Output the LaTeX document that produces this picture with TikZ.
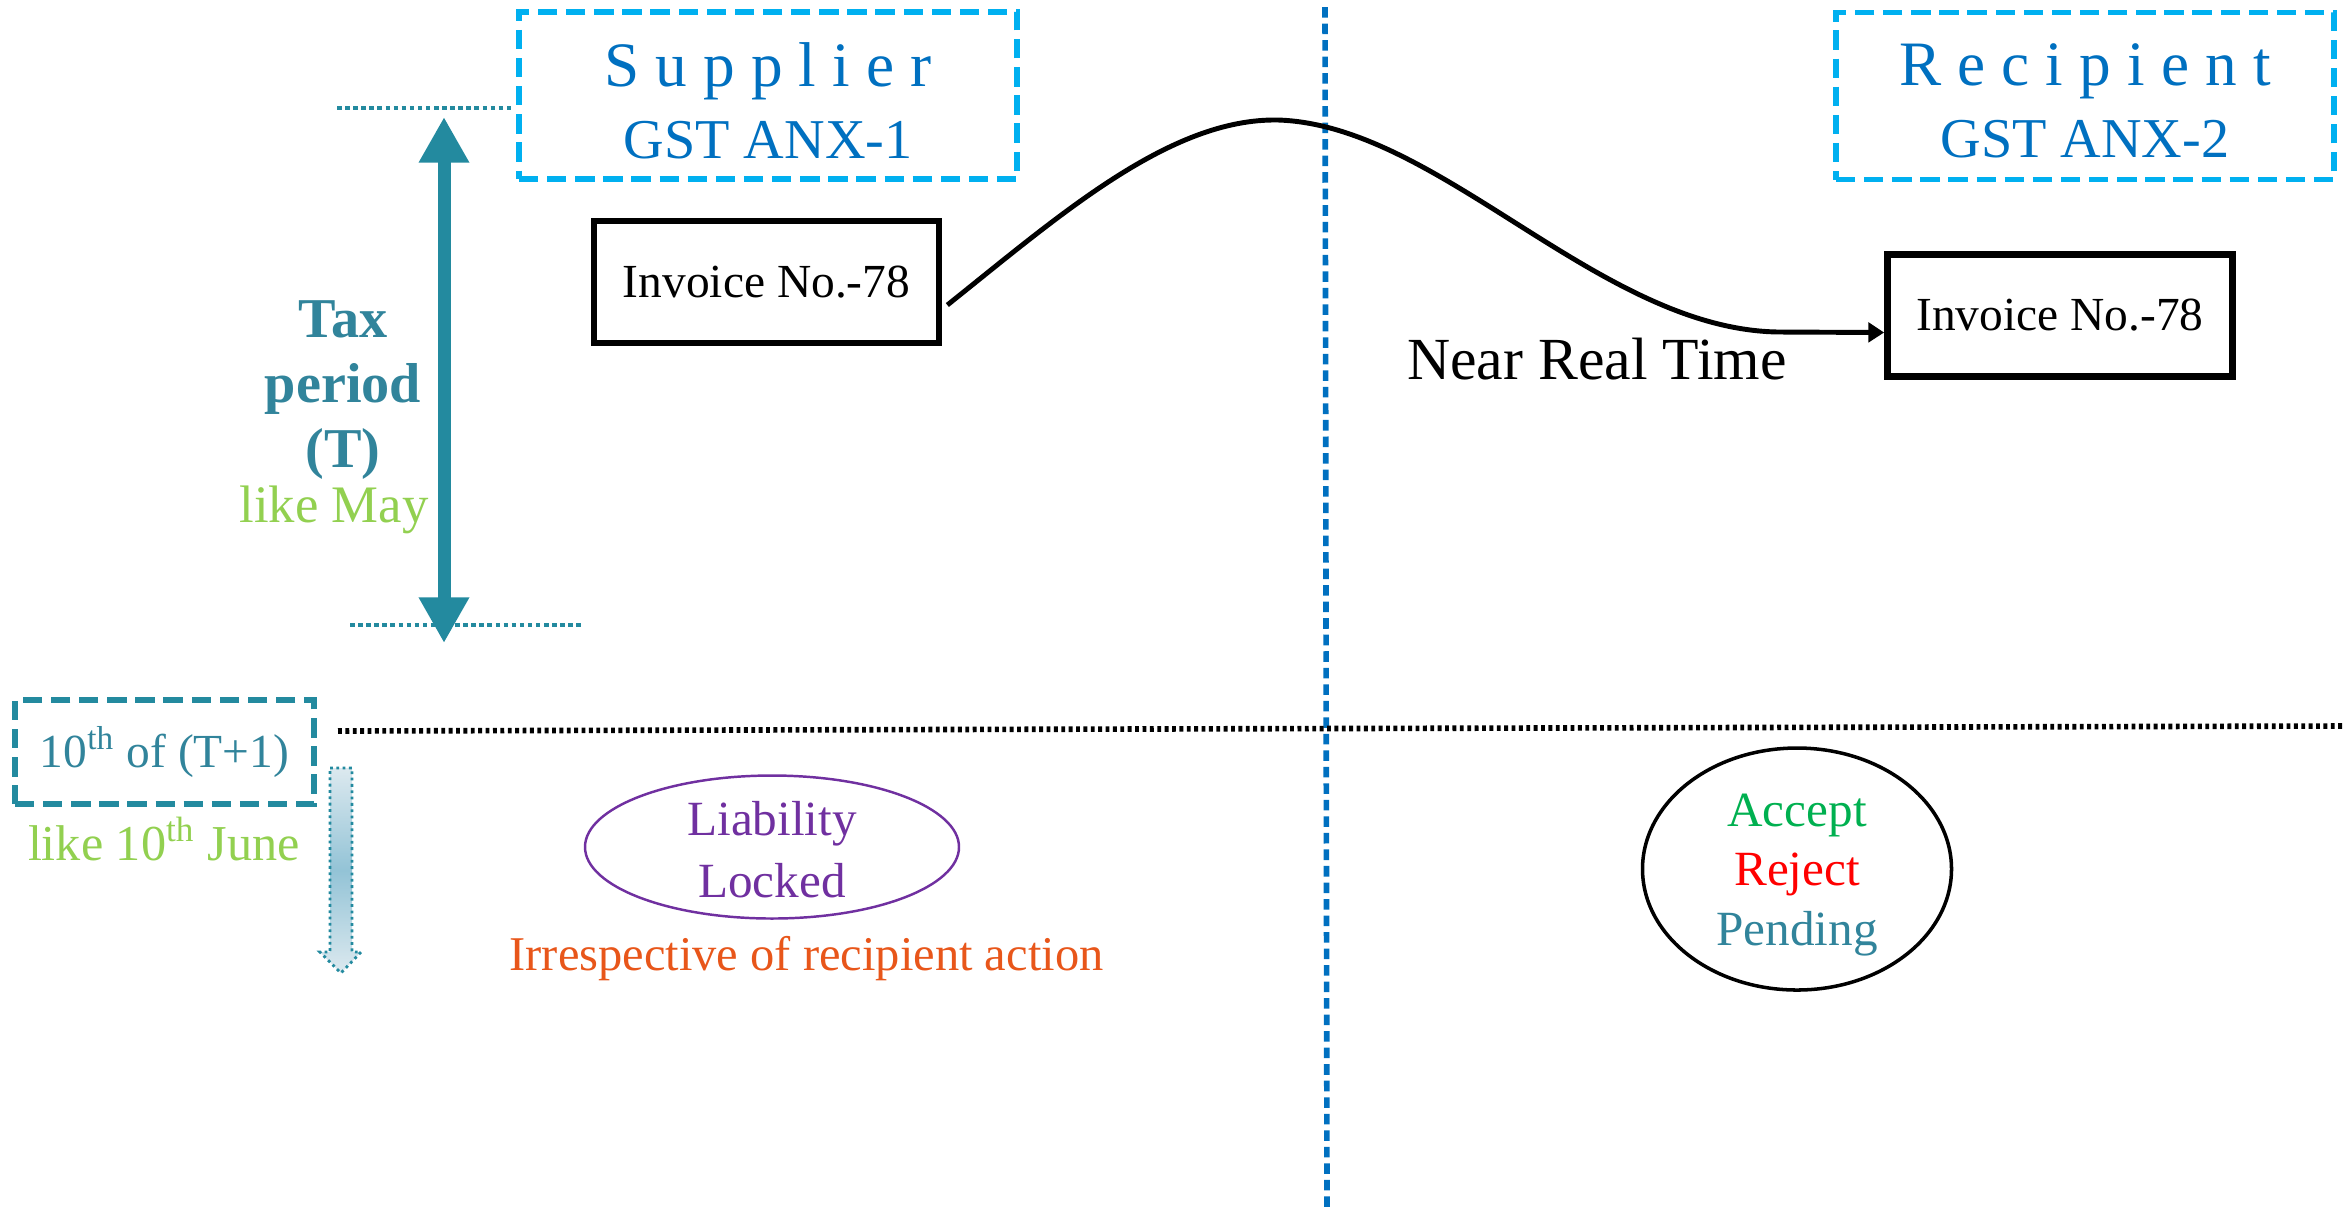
\documentclass[tikz,border=0pt]{standalone}
\usepackage{fontspec}
\setmainfont{Liberation Serif}
\usepackage{xcolor}
\definecolor{skyblue}{HTML}{00B0F0}
\definecolor{deepblue}{HTML}{0070C0}
\definecolor{tealtext}{HTML}{31849B}
\definecolor{tealarrow}{HTML}{238A9F}
\definecolor{leafgreen}{HTML}{92D050}
\definecolor{lockpurple}{HTML}{7030A0}
\definecolor{noteorange}{HTML}{E8561A}
\definecolor{acceptgreen}{HTML}{00B050}
\definecolor{shadelight}{HTML}{DCE9EF}
\definecolor{shadedark}{HTML}{93C3D6}
\usetikzlibrary{arrows.meta,shapes.geometric,positioning}

\newcommand{\lsp}{\hspace{4.6pt}}

\tikzset{
  rolebox/.style={rectangle, draw=skyblue, line width=1.5pt, dash pattern=on 5.5pt off 2.5pt,
               minimum width=4.98cm, minimum height=1.67cm, inner sep=0pt},
  roletext/.style={text=deepblue, inner sep=0pt, font=\fontsize{16}{20.5}\selectfont, align=center},
  invbox/.style={rectangle, draw=black, line width=1.9pt, minimum width=3.45cm,
               minimum height=1.22cm, font=\fontsize{13.5}{16}\selectfont},
  datebox/.style={rectangle, draw=tealarrow, line width=1.5pt, dash pattern=on 5.5pt off 2.5pt,
               text=tealtext, minimum width=2.99cm, minimum height=1.04cm, inner sep=0pt,
               font=\fontsize{13.5}{16}\selectfont},
  lockoval/.style={ellipse, draw=lockpurple, line width=0.7pt, minimum width=3.74cm,
               minimum height=1.43cm, inner sep=0pt},
  stateoval/.style={ellipse, draw=black, line width=1pt, minimum width=3.09cm,
               minimum height=2.42cm, inner sep=0pt},
  ovaltext/.style={font=\fontsize{14}{17.6}\selectfont, align=center, inner sep=0pt},
  guide/.style={draw=tealarrow, line width=1.3pt, dash pattern=on 1.3pt off 1pt},
  split/.style={line width=1.6pt, dash pattern=on 3pt off 1.7pt},
  taxarrow/.style={{Triangle[width=13.5pt,length=13pt]}-{Triangle[width=13.5pt,length=13pt]},
               line width=3.7pt, draw=tealarrow},
  flow/.style={-{Triangle[width=5.5pt,length=4.5pt]}, line width=1.4pt, draw=black},
}

\begin{document}
\begin{tikzpicture}
  \useasboundingbox (0,0) rectangle (23.44,-12.17);

  % Dividers
  \coordinate (vtop) at (13.25,-0.07);
  \coordinate (vbot) at (13.27,-12.11);
  \coordinate (hleft) at (3.38,-7.31);
  \coordinate (hright) at (23.44,-7.26);
  \draw[split, draw=deepblue] (vtop) -- (vbot);
  \draw[split, draw=black, dash pattern=on 1.1pt off 1pt] (hleft) -- (hright);

  % Headers
  \node[rolebox] (supplier) at (7.68,-0.955) {};
  \node[roletext] at ([yshift=-0.05cm]supplier)
    {{\fontsize{18}{20}\selectfont S\lsp u\lsp p\lsp p\lsp l\lsp i\lsp e\lsp r}\\GST ANX-1};
  \node[rolebox] (recipient) at (20.85,-0.96) {};
  \node[roletext] at ([yshift=-0.05cm]recipient)
    {{\fontsize{18}{20}\selectfont R\lsp e\lsp c\lsp i\lsp p\lsp i\lsp e\lsp n\lsp t}\\GST ANX-2};

  % Invoices
  \node[invbox] (invl) at (7.665,-2.82) {Invoice No.-78};
  \node[invbox] (invr) at (20.60,-3.155) {Invoice No.-78};
  \draw[flow] ([xshift=0.05cm,yshift=-0.23cm]invl.east)
    .. controls (10.6,-2.15) and (11.7,-1.18) .. (12.78,-1.2)
    .. controls (14.4,-1.25) and (16.0,-3.3) .. (17.79,-3.32)
    -- ([yshift=-0.17cm]invr.west);
  \node[font=\fontsize{17}{19}\selectfont] (nrt) at (15.97,-3.59) {Near Real Time};

  % Tax period
  \coordinate (tptop) at (4.44,-1.17);
  \coordinate (tpbot) at (4.44,-6.43);
  \draw[guide] (3.37,-1.08) -- (5.12,-1.08);
  \draw[guide] (3.50,-6.25) -- (5.83,-6.25);
  \draw[taxarrow] (tptop) -- (tpbot);
  \node[font=\bfseries\fontsize{16}{18.6}\selectfont, text=tealtext, align=center] (tax)
    at (3.43,-3.9) {Tax\\period\\(T)};
  \node[font=\fontsize{15}{18}\selectfont, text=leafgreen] (may) at (3.34,-5.1) {like May};

  % Due date
  \node[datebox] (due) at (1.645,-7.52) {10\textsuperscript{th} of (T+1)};
  \node[font=\fontsize{14.3}{17}\selectfont, text=leafgreen] (june) at (1.64,-8.39)
    {like 10\textsuperscript{th} June};
  \path[top color=shadelight, bottom color=shadelight, middle color=shadedark,
        draw=tealarrow, densely dotted, line width=0.8pt]
    (3.30,-7.68) -- (3.52,-7.68) -- (3.52,-9.52) -- (3.61,-9.52) -- (3.41,-9.73)
    -- (3.20,-9.52) -- (3.30,-9.52) -- cycle;

  % Outcomes
  \node[lockoval] (lock) at (7.72,-8.47) {};
  \node[ovaltext, text=lockpurple] at ([yshift=-0.03cm]lock) {Liability\\Locked};
  \node[font=\fontsize{13.8}{17}\selectfont, text=noteorange] (note) at (8.065,-9.59)
    {Irrespective of recipient action};
  \node[stateoval] (state) at (17.97,-8.69) {};
  \node[ovaltext, font=\fontsize{14}{17}\selectfont] at ([yshift=-0.06cm]state)
    {\textcolor{acceptgreen}{Accept}\\\textcolor{red}{Reject}\\\textcolor{tealtext}{Pending}};
\end{tikzpicture}
\end{document}
